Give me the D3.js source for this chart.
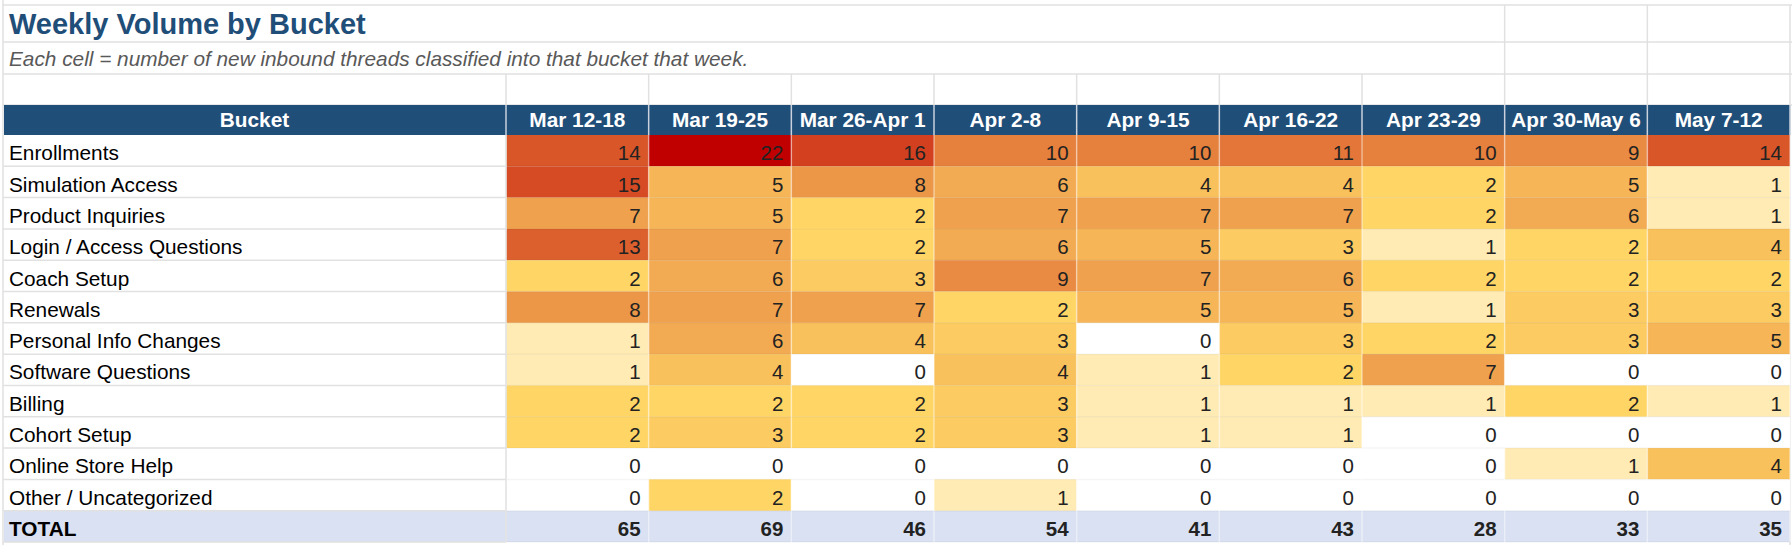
<!DOCTYPE html>
<html>
<head>
<meta charset="utf-8">
<script src="https://cdn.jsdelivr.net/npm/d3@7/dist/d3.min.js"></script>
<style>
  html, body { margin: 0; padding: 0; background: #ffffff; }
  svg { display: block; font-family: "Liberation Sans", Arial, sans-serif; }
</style>
</head>
<body>
<svg id="chart" width="1792" height="545"></svg>
<script>
// ---------- DATA ----------
const titleText = "Weekly Volume by Bucket";
const subtitleText = "Each cell = number of new inbound threads classified into that bucket that week.";
const bucketHeader = "Bucket";
const totalLabel = "TOTAL";

const weeks = ["Mar 12-18", "Mar 19-25", "Mar 26-Apr 1", "Apr 2-8", "Apr 9-15",
               "Apr 16-22", "Apr 23-29", "Apr 30-May 6", "May 7-12"];

const buckets = ["Enrollments", "Simulation Access", "Product Inquiries",
                 "Login / Access Questions", "Coach Setup", "Renewals",
                 "Personal Info Changes", "Software Questions", "Billing",
                 "Cohort Setup", "Online Store Help", "Other / Uncategorized"];

const enrollments      = [14, 22, 16, 10, 10, 11, 10, 9, 14];
const simulationAccess = [15, 5, 8, 6, 4, 4, 2, 5, 1];
const productInquiries = [7, 5, 2, 7, 7, 7, 2, 6, 1];
const loginAccess      = [13, 7, 2, 6, 5, 3, 1, 2, 4];
const coachSetup       = [2, 6, 3, 9, 7, 6, 2, 2, 2];
const renewals         = [8, 7, 7, 2, 5, 5, 1, 3, 3];
const personalInfo     = [1, 6, 4, 3, 0, 3, 2, 3, 5];
const softwareQs       = [1, 4, 0, 4, 1, 2, 7, 0, 0];
const billing          = [2, 2, 2, 3, 1, 1, 1, 2, 1];
const cohortSetup      = [2, 3, 2, 3, 1, 1, 0, 0, 0];
const onlineStore      = [0, 0, 0, 0, 0, 0, 0, 1, 4];
const otherUncat       = [0, 2, 0, 1, 0, 0, 0, 0, 0];

const seriesValues = [enrollments, simulationAccess, productInquiries, loginAccess,
  coachSetup, renewals, personalInfo, softwareQs, billing, cohortSetup,
  onlineStore, otherUncat];

// ---------- LAYOUT ----------
const svg = d3.select("#chart");
const W = 1792;
const leftX = 3, labelRight = 506, tableRight = 1790;
const headerTop = 105, headerBottom = 135, tableBottom = 542;
const gridColor = "#e1e1e1";

const cells = [];
buckets.forEach((b, i) => weeks.forEach((w, j) => cells.push({bucket: b, week: w, value: seriesValues[i][j]})));
const totals = weeks.map((w, j) => ({week: w, value: d3.sum(seriesValues, s => s[j])}));

const x = d3.scaleBand().domain(weeks).range([labelRight, tableRight]).padding(0);
const rows = [...buckets, totalLabel];
const y = d3.scaleBand().domain(rows).range([headerBottom, tableBottom]).padding(0);

const maxVal = d3.max(cells, d => d.value);
const color = d3.scaleLinear().domain([0, 2, maxVal])
  .range(["#ffffff", "#ffd666", "#c00000"]).clamp(true);

// ---------- SHEET GRID (top rows) ----------
const g = svg.append("g");
const hLines = [5, 42, 74, headerTop];
g.selectAll("line.top-h").data(hLines).join("line")
  .attr("x1", leftX).attr("x2", W).attr("y1", d => d).attr("y2", d => d)
  .attr("stroke", gridColor).attr("stroke-width", 1.5);
g.append("line").attr("x1", leftX).attr("x2", leftX).attr("y1", 0).attr("y2", 545)
  .attr("stroke", gridColor).attr("stroke-width", 1.5);
const colEdges = [labelRight, ...weeks.map(w => x(w) + x.bandwidth())];
const titleVerticals = colEdges.slice(-3);
[[5, 42], [42, 74]].forEach(([a, b]) => {
  g.selectAll(null).data(titleVerticals).join("line")
    .attr("x1", d => d).attr("x2", d => d).attr("y1", a).attr("y2", b)
    .attr("stroke", gridColor).attr("stroke-width", 1.5);
});
g.selectAll("line.row3").data(colEdges).join("line")
  .attr("x1", d => d).attr("x2", d => d).attr("y1", 74).attr("y2", headerTop)
  .attr("stroke", gridColor).attr("stroke-width", 1.5);
g.selectAll("line.rightcol").data([0]).join("line")
  .attr("x1", tableRight).attr("x2", tableRight).attr("y1", headerTop).attr("y2", 545)
  .attr("stroke", gridColor).attr("stroke-width", 1.5);

// Title & subtitle
svg.append("text").attr("x", 9).attr("y", 34)
  .attr("font-size", 29).attr("font-weight", "bold").attr("fill", "#1f4e79")
  .text(titleText);
svg.append("text").attr("x", 9).attr("y", 66)
  .attr("font-size", 20.8).attr("font-style", "italic").attr("fill", "#595959")
  .text(subtitleText);

// ---------- HEADER ----------
const header = svg.append("g");
header.append("rect").attr("x", leftX + 1).attr("y", headerTop)
  .attr("width", tableRight - leftX - 1).attr("height", headerBottom - headerTop)
  .attr("fill", "#1f4e79");
header.selectAll("line.hsep").data(colEdges).join("line")
  .attr("x1", d => d).attr("x2", d => d).attr("y1", headerTop).attr("y2", headerBottom)
  .attr("stroke", "#c9d2dd").attr("stroke-width", 1.5);
header.append("text").attr("x", (leftX + labelRight) / 2).attr("y", headerBottom - 8)
  .attr("text-anchor", "middle").attr("font-size", 20.8).attr("font-weight", "bold")
  .attr("fill", "#ffffff").text(bucketHeader);
header.selectAll("text.week").data(weeks).join("text")
  .attr("class", "week")
  .attr("x", d => x(d) + x.bandwidth() / 2).attr("y", headerBottom - 8)
  .attr("text-anchor", "middle").attr("font-size", 20.8).attr("font-weight", "bold")
  .attr("fill", "#ffffff").text(d => d);

// ---------- BODY ----------
const body = svg.append("g");
body.append("rect").attr("x", leftX + 1).attr("y", y(totalLabel))
  .attr("width", tableRight - leftX - 1).attr("height", y.bandwidth())
  .attr("fill", "#d9e1f2");

body.selectAll("rect.cell").data(cells).join("rect")
  .attr("class", "cell")
  .attr("x", d => x(d.week)).attr("y", d => y(d.bucket))
  .attr("width", x.bandwidth()).attr("height", y.bandwidth())
  .attr("fill", d => color(d.value));

body.selectAll("line.rowline").data(rows).join("line")
  .attr("x1", leftX).attr("x2", labelRight)
  .attr("y1", d => y(d) + y.bandwidth()).attr("y2", d => y(d) + y.bandwidth())
  .attr("stroke", gridColor).attr("stroke-width", 1.5);
body.selectAll("line.dataRow").data(rows).join("line")
  .attr("x1", labelRight).attr("x2", tableRight)
  .attr("y1", d => y(d) + y.bandwidth()).attr("y2", d => y(d) + y.bandwidth())
  .attr("stroke", "#000").attr("stroke-opacity", 0.04).attr("stroke-width", 1.5);
body.selectAll("line.dataCol").data(colEdges).join("line")
  .attr("x1", d => d).attr("x2", d => d).attr("y1", headerBottom).attr("y2", tableBottom)
  .attr("stroke", "#ffffff").attr("stroke-opacity", 0.45).attr("stroke-width", 1.5);
body.append("line").attr("x1", labelRight).attr("x2", labelRight)
  .attr("y1", headerBottom).attr("y2", tableBottom)
  .attr("stroke", gridColor).attr("stroke-width", 1.5);

body.selectAll("text.label").data(rows).join("text")
  .attr("class", "label")
  .attr("x", 9).attr("y", d => y(d) + y.bandwidth() - 6)
  .attr("font-size", 20.8).attr("font-weight", d => d === totalLabel ? "bold" : "normal")
  .attr("fill", "#000").text(d => d);

body.selectAll("text.val").data(cells).join("text")
  .attr("class", "val")
  .attr("x", d => x(d.week) + x.bandwidth() - 8)
  .attr("y", d => y(d.bucket) + y.bandwidth() - 6)
  .attr("text-anchor", "end").attr("font-size", 20.5).attr("fill", "#222")
  .text(d => d.value);
body.selectAll("text.tot").data(totals).join("text")
  .attr("class", "tot")
  .attr("x", d => x(d.week) + x.bandwidth() - 8)
  .attr("y", y(totalLabel) + y.bandwidth() - 6)
  .attr("text-anchor", "end").attr("font-size", 20.5).attr("font-weight", "bold").attr("fill", "#222")
  .text(d => d.value);
</script>
</body>
</html>
